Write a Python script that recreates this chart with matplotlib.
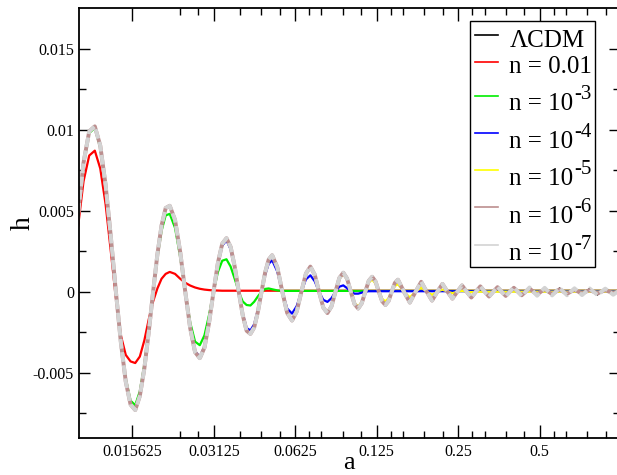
import matplotlib
matplotlib.use("Agg")
import matplotlib.pyplot as plt
from matplotlib.lines import Line2D
from matplotlib.patches import Rectangle
from matplotlib.ticker import FixedLocator, FixedFormatter, NullFormatter

plt.rcParams.update({
    "font.family": ["Liberation Serif", "DejaVu Serif"],
    "mathtext.fontset": "custom",
    "mathtext.rm": "Liberation Serif",
    "mathtext.default": "regular",
})

# ---- data -------------------------------------------------------------
# scale factor samples shared by all curves
a_grid = [
    0.009332, 0.009821, 0.010323, 0.010837, 0.011364, 0.011903, 0.012455, 0.013019,
    0.013596, 0.014185, 0.014787, 0.015401, 0.016028, 0.016667, 0.017319, 0.017983,
    0.018660, 0.019349, 0.020051, 0.020765, 0.021492, 0.022480, 0.023491, 0.024524,
    0.025578, 0.026656, 0.027756, 0.028876, 0.030022, 0.031188, 0.032375, 0.033588,
    0.034820, 0.036073, 0.037353, 0.038652, 0.039972, 0.041319, 0.042684, 0.044071,
    0.045484, 0.046916, 0.048369, 0.049849, 0.051348, 0.053639, 0.055980, 0.058371,
    0.060812, 0.063303, 0.065844, 0.068435, 0.071076, 0.073767, 0.076508, 0.079299,
    0.082140, 0.085031, 0.087972, 0.090963, 0.09404, 0.09710, 0.10024, 0.10343,
    0.10673, 0.11003, 0.11337, 0.11676, 0.12020, 0.12369, 0.12723, 0.13083,
    0.13454, 0.13824, 0.14198, 0.14577, 0.14969, 0.15753, 0.16561, 0.17390,
    0.18240, 0.19112, 0.20004, 0.20919, 0.21855, 0.22810, 0.23788, 0.24788,
    0.25811, 0.26863, 0.27939, 0.29037, 0.30160, 0.31307, 0.32476, 0.33675,
    0.34903, 0.36156, 0.37437, 0.38748, 0.40098, 0.41477, 0.42883, 0.44329,
    0.45805, 0.47326, 0.48884, 0.50482, 0.52120, 0.53802, 0.55541, 0.57335,
    0.59168, 0.61090, 0.63045, 0.65044, 0.67160, 0.69372, 0.71626, 0.73994,
    0.76423, 0.78979, 0.81628, 0.84419, 0.87247, 0.90364, 0.93362, 0.96865,
    1.003,
]

# Lambda-CDM (the n = 1e-7 curve lies on top of it)
h_lcdm = [
    0.0, 0.00452, 0.00795, 0.00989, 0.0102, 0.00901, 0.00659, 0.00341,
    0.0, -0.00313, -0.00555, -0.00696, -0.0073, -0.00643, -0.00474, -0.00247,
    0.0, 0.0023, 0.00409, 0.00516, 0.0053, 0.00443, 0.00245, 0.0,
    -0.00225, -0.00373, -0.0041, -0.00345, -0.00192, 0.0, 0.00178, 0.00296,
    0.0033, 0.00276, 0.00154, 0.0, -0.00144, -0.00241, -0.0026, -0.00221,
    -0.00124, 0.0, 0.00118, 0.00198, 0.00225, 0.00151, 0.0, -0.00132,
    -0.00178, -0.00121, 0.0, 0.00112, 0.00155, 0.00105, 0.0, -0.00097,
    -0.00132, -0.00091, 0.0, 0.00085, 0.00117, 0.00081, 0.0, -0.00076,
    -0.00104, -0.00071, 0.0, 0.00067, 0.00092, 0.00063, 0.0, -0.00059,
    -0.00082, -0.00057, 0.0, 0.00054, 0.00074, 0.0, -0.00067, 0.0,
    0.00061, 0.0, -0.00055, 0.0, 0.00048, 0.0, -0.00043, 0.0,
    0.00039, 0.0, -0.00036, 0.0, 0.00033, 0.0, -0.00031, 0.0,
    0.0003, 0.0, -0.00029, 0.0, 0.00028, 0.0, -0.00027, 0.0,
    0.00026, 0.0, -0.00025, 0.0, 0.00024, 0.0, -0.00023, 0.0,
    0.00023, 0.0, -0.00022, 0.0, 0.00021, 0.0, -0.00021, 0.0,
    0.0002, 0.0, -0.0002, 0.0, 0.00019, 0.0, -0.00019, 0.0,
    0.00018,
]

h_n2 = [
    0.0, 0.0038, 0.0068, 0.0084, 0.0087, 0.0076, 0.0054, 0.0025,
    -0.0004, -0.0027, -0.0039, -0.0043, -0.0044, -0.0040, -0.0030, -0.0017,
    -0.0006, 0.0002, 0.0008, 0.0011, 0.00122, 0.0011, 0.0008, 0.00055,
    0.00038, 0.00026, 0.00018, 0.00013, 0.0001, 0.00008, 0.00007, 0.00006,
]

h_n3 = [
    0.0, 0.00447, 0.00787, 0.00979, 0.0101, 0.0089, 0.00649, 0.00335,
    0.0, -0.00305, -0.00538, -0.00672, -0.0070, -0.00614, -0.00449, -0.00232,
    0.0, 0.00213, 0.00376, 0.00471, 0.0048, 0.00394, 0.00214, 0.0,
    -0.0019, -0.00308, -0.0033, -0.00269, -0.00144, 0.0, 0.00122, 0.00191,
    0.0020, 0.00155, 0.00079, 0.0, -0.0006, -0.00082, -0.00085, -0.00062,
    -0.00029, 0.0, 0.00017, 0.0002, 0.00015, 0.00008, 0.00005,
]

h_n4 = [
    0.0, 0.00452, 0.00795, 0.00989, 0.0102, 0.00901, 0.00659, 0.00341,
    0.0, -0.00313, -0.00555, -0.00696, -0.0073, -0.00643, -0.00474, -0.00247,
    0.0, 0.0023, 0.00409, 0.00516, 0.0053, 0.00443, 0.00245, 0.0,
    -0.00223, -0.00367, -0.00402, -0.00336, -0.00186, 0.0, 0.00172, 0.00284,
    0.00317, 0.00262, 0.00146, 0.0, -0.00135, -0.00224, -0.00239, -0.00201,
    -0.00112, 0.0, 0.00104, 0.00172, 0.00194, 0.00125, 0.0, -0.00104,
    -0.00135, -0.00088, 0.0, 0.00076, 0.00101, 0.00064, 0.0, -0.0005,
    -0.00063, -0.0004, 0.0, 0.00031, 0.00039, 0.00022, 0.0, -0.00012,
    -0.00012, -0.00006, 0.0, 0.00003,
]

h_n5 = [
    0.0, 0.00452, 0.00795, 0.00989, 0.0102, 0.00901, 0.00659, 0.00341,
    0.0, -0.00313, -0.00555, -0.00696, -0.0073, -0.00643, -0.00474, -0.00247,
    0.0, 0.0023, 0.00409, 0.00516, 0.0053, 0.00443, 0.00245, 0.0,
    -0.00225, -0.00373, -0.0041, -0.00345, -0.00192, 0.0, 0.00178, 0.00296,
    0.0033, 0.00276, 0.00154, 0.0, -0.00144, -0.00241, -0.0026, -0.00221,
    -0.00124, 0.0, 0.00118, 0.00198, 0.00225, 0.00151, 0.0, -0.00131,
    -0.00176, -0.0012, 0.0, 0.0011, 0.00152, 0.00102, 0.0, -0.00094,
    -0.00127, -0.00086, 0.0, 0.0008, 0.00109, 0.00075, 0.0, -0.00068,
    -0.00092, -0.00061, 0.0, 0.00056, 0.00075, 0.0005, 0.0, -0.00044,
    -0.00059, -0.0004, 0.0, 0.00035, 0.00046, 0.0, -0.00035, 0.0,
    0.00026, 0.0, -0.00019, 0.0, 0.00013, 0.0, -0.00009, 0.0,
    0.00005, 0.0, -0.00003, 0.0,
]

# n = 1e-6 follows Lambda-CDM up to a ~ 0.3, then its oscillation shrinks
h_n6_late = [
    0.0, -0.0003, 0.0, 0.00028, 0.0, -0.00026, 0.0, 0.00024,
    0.0, -0.00022, 0.0, 0.0002, 0.0, -0.00018, 0.0, 0.00016,
    0.0, -0.00015, 0.0, 0.00014, 0.0, -0.00013, 0.0, 0.00012,
    0.0, -0.00011, 0.0, 0.0001, 0.0, -0.0001, 0.0, 0.00009,
    0.0, -0.00009, 0.0, 0.00008,
]
h_n6 = h_lcdm[:93] + h_n6_late
h_n7 = h_lcdm

legend_base = ["\u039bCDM", "n = 0.01", "n = 10", "n = 10", "n = 10", "n = 10", "n = 10"]
legend_exp = ["", "", "-3", "-4", "-5", "-6", "-7"]
colors = ["black", "#ff0000", "#00ee00", "#0000ff", "#ffff00", "#bc8f8f", "#d3d3d3"]

x_major = [0.015625, 0.03125, 0.0625, 0.125, 0.25, 0.5]
x_major_labels = ["0.015625", "0.03125", "0.0625", "0.125", "0.25", "0.5"]
x_minor = [0.0234375, 0.02734375, 0.0390625, 0.046875, 0.0546875,
           0.0703125, 0.078125, 0.09375, 0.109375,
           0.140625, 0.15625, 0.1875, 0.21875,
           0.28125, 0.3125, 0.375, 0.4375,
           0.5625, 0.625, 0.75, 0.875]
y_major = [-0.005, 0.0, 0.005, 0.01, 0.015]
y_major_labels = ["-0.005", "0", "0.005", "0.01", "0.015"]
y_minor = [-0.0075, -0.0025, 0.0025, 0.0075, 0.0125]


def held(h):
    """Samples for a curve, held at its last value out to the right edge."""
    n = len(h)
    return a_grid[:n] + [a_grid[-1]], h + [h[-1]]


# ---- figure -----------------------------------------------------------
W, H = 617, 475
fig = plt.figure(figsize=(W / 100, H / 100), dpi=100)
left, right, top, bottom = 79.3, 619.5, 8.0, 437.6
ax = fig.add_axes([left / W, 1 - bottom / H, (right - left) / W, (bottom - top) / H])


def fxy(px, py):
    """Pixel position (from the top-left corner) to figure fraction."""
    return px / W, 1 - py / H


ax.set_xscale("log", base=2)
ax.set_xlim(0.00996, 0.985)
ax.set_ylim(-0.009, 0.0175)

series = [h_lcdm, h_n2, h_n3, h_n4, h_n5]
widths = [1.0, 1.6, 1.6, 1.6, 1.6]
for h, c, lw in zip(series, colors[:5], widths):
    xs, ys = held(h)
    ax.plot(xs, ys, color=c, lw=lw, solid_joinstyle="round")

xs, ys = held(h_n6)
ax.plot(xs, ys, color=colors[5], lw=2.8, solid_joinstyle="round")
xs, ys = held(h_n7)
ax.plot(xs, ys, color=colors[6], lw=2.8, dashes=(2.5, 0.9))

# axes, ticks
for s in ax.spines.values():
    s.set_linewidth(1.3)
ax.xaxis.set_major_locator(FixedLocator(x_major))
ax.xaxis.set_major_formatter(FixedFormatter(x_major_labels))
ax.xaxis.set_minor_locator(FixedLocator(x_minor))
ax.xaxis.set_minor_formatter(NullFormatter())
ax.yaxis.set_major_locator(FixedLocator(y_major))
ax.yaxis.set_major_formatter(FixedFormatter(y_major_labels))
ax.yaxis.set_minor_locator(FixedLocator(y_minor))
ax.yaxis.set_minor_formatter(NullFormatter())

ax.tick_params(axis="both", which="both", direction="in", top=True, right=True,
               width=1.0, labelsize=11.5, colors="black")
ax.tick_params(axis="x", which="major", length=9.5, pad=4.5)
ax.tick_params(axis="x", which="minor", length=4.8)
ax.tick_params(axis="y", which="major", length=7.7, pad=3.8)
ax.tick_params(axis="y", which="minor", length=4.8)

ax.set_xlabel("a", fontsize=19)
ax.set_ylabel("h", fontsize=20)
ax.xaxis.set_label_coords(0.5, -0.034)
ax.yaxis.set_label_coords(-0.080, 0.5)

# ---- legend box -------------------------------------------------------
box_l, box_t, box_r, box_b = 470, 21, 595, 267
fig.add_artist(Rectangle(fxy(box_l, box_b), (box_r - box_l) / W, (box_b - box_t) / H,
                         transform=fig.transFigure, facecolor="white",
                         edgecolor="black", lw=1.0, zorder=5))
row_line_y = [35, 61.7, 96, 132.7, 170, 206.7, 245]
row_base_y = [46.7, 72.7, 110, 147.7, 185, 222.7, 260]
texts = []
for c, ly, by, base in zip(colors, row_line_y, row_base_y, legend_base):
    (x0, y0), (x1, _) = fxy(475, ly), fxy(497.7, ly)
    fig.add_artist(Line2D([x0, x1], [y0, y0], transform=fig.transFigure,
                          color=c, lw=1.2, zorder=6))
    tx, ty = fxy(509.3, by)
    texts.append(fig.text(tx, ty, base, fontsize=18, ha="left", va="baseline", zorder=6))

fig.canvas.draw()
renderer = fig.canvas.get_renderer()
for t, by, ex in zip(texts, row_base_y, legend_exp):
    if ex:
        bb = t.get_window_extent(renderer)
        ex_x = bb.x1 + 1.0
        fig.text(ex_x / W, 1 - (by - 11) / H, ex, fontsize=15, ha="left",
                 va="baseline", zorder=6)

fig.savefig("out.png", dpi=100)
